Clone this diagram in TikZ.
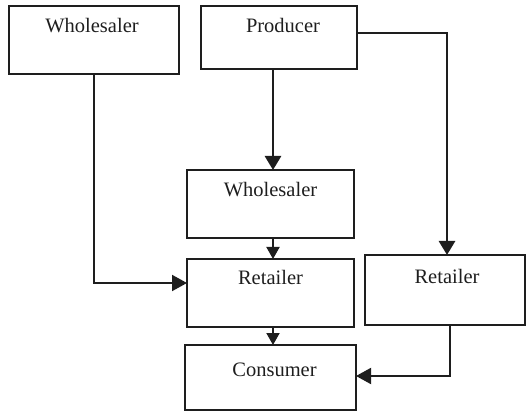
\documentclass[tikz,border=0pt]{standalone}
\usepackage{fontspec}
\setmainfont{Liberation Serif}
\usetikzlibrary{arrows.meta,calc}
\definecolor{ink}{HTML}{1E1E1E}
\tikzset{
  box/.style={draw=ink, line width=1.6pt, rectangle, inner sep=0pt, outer sep=0pt},
  lbl/.style={anchor=base, inner sep=0pt, text=ink, font=\fontsize{20.5}{24}\selectfont},
  thin/.style={draw=ink, line width=1.9pt, -{Triangle[length=15pt,width=16pt]}},
  thick/.style={draw=ink, line width=2.8pt, -{Triangle[length=14pt,width=16pt]}},
  short/.style={draw=ink, line width=1.9pt, -{Triangle[length=12pt,width=13pt]}}
}
\begin{document}
\begin{tikzpicture}[x=1pt,y=-1pt]
\useasboundingbox (0,0) rectangle (527,411);
% boxes
\node[box, minimum width=170pt, minimum height=68pt] (w1) at (94,40) {};
\node[box, minimum width=156pt, minimum height=63pt] (pr) at (279,37.5) {};
\node[box, minimum width=167pt, minimum height=68pt] (w2) at (270.5,204) {};
\node[box, minimum width=167pt, minimum height=68pt] (r1) at (270.5,293) {};
\node[box, minimum width=160pt, minimum height=70pt] (r2) at (445,290) {};
\node[box, minimum width=171pt, minimum height=65pt] (co) at (270.5,377.5) {};
% labels
\node[lbl] (tw1) at ([xshift=-2pt,yshift=-27pt]w1.north) {Wholesaler};
\node[lbl] (tpr) at ([xshift=4pt,yshift=-27pt]pr.north) {Producer};
\node[lbl] (tw2) at ([yshift=-27pt]w2.north) {Wholesaler};
\node[lbl] (tr1) at ([yshift=-26pt]r1.north) {Retailer};
\node[lbl] (tr2) at ([xshift=2pt,yshift=-29pt]r2.north) {Retailer};
\node[lbl] (tco) at ([xshift=4pt,yshift=-31pt]co.north) {Consumer};
% helper coordinates
\coordinate (a1) at (273,0);
\coordinate (a2) at (447,33);
\coordinate (c1) at (94,283);
\coordinate (c2) at (450,376);
% connectors
\draw[thick] (pr.south -| a1) -- (w2.north -| a1);
\draw[thick] (pr.east |- a2) -| (r2.north -| a2);
\draw[short] (w2.south -| a1) -- (r1.north -| a1);
\draw[short] (r1.south -| a1) -- (co.north -| a1);
\draw[thin] (w1.south) |- (r1.west |- c1);
\draw[thin] (r2.south -| c2) |- (co.east |- c2);
\end{tikzpicture}
\end{document}
